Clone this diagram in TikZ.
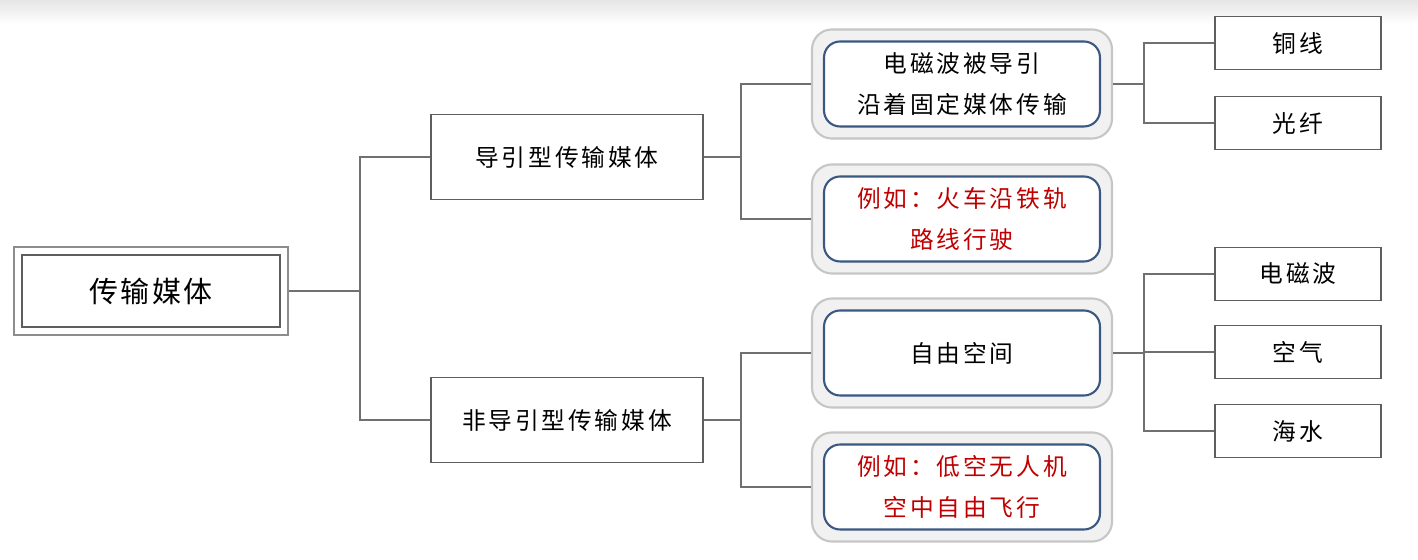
\documentclass[tikz,border=0pt]{standalone}
\usepackage{fontspec}
\setmainfont{Noto Sans CJK SC}
\newfontfamily\spacedfont{Noto Sans CJK SC}[LetterSpace=12]
\newfontfamily\rootfont{Noto Sans CJK SC}[LetterSpace=7]
\usepackage{tikz}
\usetikzlibrary{positioning, fit, backgrounds, calc}
\definecolor{linkgray}{HTML}{707070}
\definecolor{leafgray}{HTML}{5E5E5E}
\definecolor{framegray}{HTML}{C6C6C6}
\definecolor{framefill}{HTML}{F1F1F1}
\definecolor{innerblue}{HTML}{3B5882}
\definecolor{notered}{HTML}{C00000}
\tikzset{
  linkline/.style={draw=linkgray, line width=1.3pt},
  rootbox/.style={draw=leafgray, line width=1.2pt, fill=white, align=center,
                  font=\rootfont\fontsize{16.5}{20}\selectfont, minimum width=5.16cm, minimum height=1.44cm},
  rootframe/.style={draw=linkgray!80, line width=1pt, inner sep=0.14cm},
  midbox/.style={draw=leafgray, line width=1.1pt, fill=white, align=center,
                 font=\spacedfont\fontsize{13.5}{23}\selectfont, minimum width=5.44cm, minimum height=1.7cm},
  leafbox/.style={draw=leafgray, line width=1.1pt, fill=white, align=center,
                  font=\spacedfont\fontsize{13.5}{23}\selectfont, minimum width=3.32cm, minimum height=1.06cm},
  notebox/.style={draw=innerblue, line width=1.2pt, fill=white, rounded corners=0.32cm,
                  align=center, font=\spacedfont\fontsize{13.5}{23}\selectfont,
                  minimum width=5.52cm, minimum height=1.7cm},
  noteframe/.style={draw=framegray, line width=1.2pt, fill=framefill,
                    rounded corners=0.4cm, inner sep=0.22cm},
}
\begin{document}
\begin{tikzpicture}[x=0.02cm, y=-0.02cm]
  \useasboundingbox (0,0) rectangle (1418,560);
  \shade[top color=black!10, bottom color=white, draw=none] (0,0) rectangle (1418,24);

  % root and first level
  \node[rootbox] (root) at (151,291) {传输媒体};
  \node[midbox] (guided) at (567,157) {导引型传输媒体};
  \node[midbox] (unguided) at (567,420) {非导引型传输媒体};

  % second level
  \node[notebox] (fixed) at (962,84) {电磁波被导引\\沿着固定媒体传输};
  \node[notebox, text=notered] (train) at (962,219) {例如：火车沿铁轨\\路线行驶};
  \node[notebox] (free) at (962,353) {自由空间};
  \node[notebox, text=notered] (drone) at (962,487) {例如：低空无人机\\空中自由飞行};

  % leaves
  \node[leafbox] (copper) at (1298,43) {铜线};
  \node[leafbox] (fiber) at (1298,123) {光纤};
  \node[leafbox] (wave) at (1298,274) {电磁波};
  \node[leafbox] (air) at (1298,352) {空气};
  \node[leafbox] (sea) at (1298,431) {海水};

  \begin{scope}[on background layer]
    \node[rootframe, fit=(root)] (rootf) {};
    \foreach \n in {fixed, train, free, drone} {
      \node[noteframe, fit=(\n)] (\n f) {};
    }
  \end{scope}

  \foreach \a/\b/\d in {rootf/guided/71, rootf/unguided/71,
                        guided/fixedf/37, guided/trainf/37,
                        unguided/freef/37, unguided/dronef/37,
                        fixedf/copper/31, fixedf/fiber/31,
                        freef/wave/31, freef/air/31, freef/sea/31} {
    \draw[linkline] (\a.east) -- ++(\d,0) |- (\b.west);
  }
\end{tikzpicture}
\end{document}
